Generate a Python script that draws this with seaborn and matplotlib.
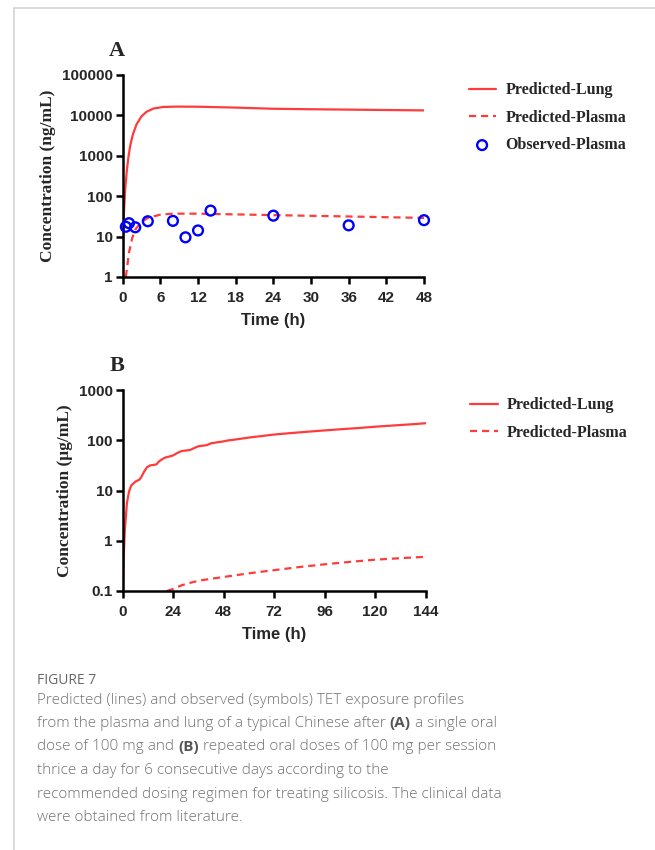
"""Recreate Figure 7: predicted vs observed TET exposure (plasma and lung)."""

import matplotlib

matplotlib.use("Agg")

import matplotlib.pyplot as plt
import numpy as np
import pandas as pd
import seaborn as sns
from matplotlib.lines import Line2D

# ---- panel A: single 100 mg oral dose (ng/mL) ----
time_lung_a = [0, 0.2, 0.4, 0.65, 0.9, 1.2, 1.6, 2.2, 3, 3.8, 4.9, 6.5, 8.5,
               12, 18, 24, 30, 36, 42, 48]
conc_lung_a = [2.4, 40, 150, 420, 900, 1800, 3300, 6000, 9500, 12300, 14800,
               16200, 16500, 16400, 15600, 14600, 14200, 13900, 13600, 13300]

time_plasma_a = [0.5, 0.75, 1, 1.5, 2, 3, 4, 6, 8, 12, 24, 36, 48]
conc_plasma_a = [1, 2, 4, 9, 15, 23, 29, 35, 37, 37, 34, 31.5, 29]

time_obs_a = [0.5, 1, 2, 4, 8, 10, 12, 14, 24, 36, 48]
conc_obs_a = [17.5, 21.5, 17, 24, 24.5, 9.6, 14.2, 44, 33, 19, 25.5]

# ---- panel B: 100 mg thrice daily for 6 days (ug/mL) ----
time_lung_b = [0, 0.5, 1, 2, 3, 4, 6, 8, 9, 10, 11.5, 13, 16, 17, 18, 20, 23,
               24, 26, 28, 32, 34, 36, 40, 42, 45, 48, 50, 54, 58, 62, 66, 72,
               80, 88, 96, 104, 112, 120, 128, 136, 144]
conc_lung_b = [0.1, 0.5, 1.6, 5.6, 9.5, 12.5, 15, 16.5, 19, 23, 29, 31.5, 33,
               37, 40, 45, 48.5, 50, 56, 61, 64, 70, 76, 80, 87, 91, 95, 99,
               104, 110, 116, 121, 130, 139, 148, 157, 166, 175, 186, 196,
               206, 218]

time_plasma_b = [21, 24, 28, 32, 36, 42, 48, 60, 72, 84, 96, 108, 120, 132, 144]
conc_plasma_b = [0.1, 0.11, 0.13, 0.145, 0.16, 0.175, 0.19, 0.225, 0.26, 0.3,
                 0.34, 0.38, 0.42, 0.45, 0.48]

RED = "#ff3b3b"
BLUE = "#0000ff"
SERIF = "Liberation Serif"
SANS = "Liberation Sans"

sns.set_style("ticks")
plt.rcParams["font.family"] = [SANS, "DejaVu Sans"]

W, H = 655, 850
fig = plt.figure(figsize=(W / 100, H / 100), dpi=100)


def px_axes(left, top, right, bottom):
    return fig.add_axes([left / W, 1 - bottom / H, (right - left) / W,
                         (bottom - top) / H])


def style_axes(ax, xticks, xlim, ylim, yticks, yticklabels, ylabel, letter):
    ax.set_yscale("log")
    ax.set_xlim(*xlim)
    ax.set_ylim(*ylim)
    ax.set_xticks(xticks)
    ax.set_yticks(yticks)
    ax.set_yticklabels(yticklabels)
    ax.minorticks_off()
    sns.despine(ax=ax)
    for side in ("left", "bottom"):
        ax.spines[side].set_linewidth(1.8)
        ax.spines[side].set_color("black")
    ax.tick_params(width=1.8, length=5, labelsize=11, color="black")
    ax.tick_params(axis="x", pad=5)
    ax.tick_params(axis="y", pad=2)
    for lab in ax.get_xticklabels() + ax.get_yticklabels():
        lab.set_fontweight("bold")
        lab.set_family(SANS)
    ax.set_xlabel("Time (h)", fontsize=12, fontweight="bold", family=SANS,
                  labelpad=6)
    ax.set_ylabel(ylabel, fontsize=12.5, fontweight="bold", family=SERIF,
                  labelpad=4)
    ax.text(-0.02, 1.12, letter, transform=ax.transAxes, fontsize=16,
            fontweight="bold", family=SERIF, ha="center", va="center")


def add_legend(ax):
    ax.legend(loc="upper left", bbox_to_anchor=(1.1, 1.035), frameon=False,
              prop={"family": SERIF, "weight": "bold", "size": 11.5},
              handlelength=1.7, labelspacing=0.72, handletextpad=0.6)


# ---- panel A ----
ax_a = px_axes(122.7, 75, 424, 277)
sns.lineplot(x=time_lung_a, y=conc_lung_a, ax=ax_a, color=RED, lw=1.6,
             label="Predicted-Lung")
sns.lineplot(x=time_plasma_a, y=conc_plasma_a, ax=ax_a, color=RED, lw=1.6,
             linestyle=(0, (3.2, 2.2)), label="Predicted-Plasma")
sns.scatterplot(x=time_obs_a, y=conc_obs_a, ax=ax_a, marker="o",
                facecolor="none", edgecolor=BLUE, linewidth=1.7, s=50,
                label="Observed-Plasma", zorder=5, clip_on=False)
style_axes(ax_a, np.arange(0, 49, 6), (0, 48), (1, 100000),
           [1, 10, 100, 1000, 10000, 100000],
           ["1", "10", "100", "1000", "10000", "100000"],
           "Concentration (ng/mL)", "A")
add_legend(ax_a)

# ---- panel B ----
ax_b = px_axes(122.7, 390, 425.7, 591)
sns.lineplot(x=time_lung_b, y=conc_lung_b, ax=ax_b, color=RED, lw=1.6,
             label="Predicted-Lung")
sns.lineplot(x=time_plasma_b, y=conc_plasma_b, ax=ax_b, color=RED, lw=1.6,
             linestyle=(0, (3.2, 2.2)), label="Predicted-Plasma")
style_axes(ax_b, np.arange(0, 145, 24), (0, 144), (0.1, 1000),
           [0.1, 1, 10, 100, 1000], ["0.1", "1", "10", "100", "1000"],
           "Concentration (\u03bcg/mL)", "B")
add_legend(ax_b)

# ---- page frame ----
fig.add_artist(Line2D([14 / W, 1], [1 - 8 / H, 1 - 8 / H], color="#d4d4d4",
                      lw=1.2, transform=fig.transFigure))
fig.add_artist(Line2D([14 / W, 14 / W], [0, 1 - 8 / H], color="#d4d4d4",
                      lw=1.2, transform=fig.transFigure))

# ---- caption ----
CAP_FONT = ["Open Sans", "DejaVu Sans"]
CAP_GREY = "#727272"
fig.text(37 / W, 1 - 681 / H, "FIGURE 7", fontsize=10, color="#666666",
         family=CAP_FONT, va="center", fontweight="medium")

caption_lines = [
    [("Predicted (lines) and observed (symbols) TET exposure profiles", "light")],
    [("from the plasma and lung of a typical Chinese after ", "light"),
     ("(A)", "bold"), (" a single oral", "light")],
    [("dose of 100 mg and ", "light"), ("(B)", "bold"),
     (" repeated oral doses of 100 mg per session", "light")],
    [("thrice a day for 6 consecutive days according to the", "light")],
    [("recommended dosing regimen for treating silicosis. The clinical data",
      "light")],
    [("were obtained from literature.", "light")],
]
renderer = fig.canvas.get_renderer()
y_px = 700
for parts in caption_lines:
    x_px = 37
    for txt, weight in parts:
        t = fig.text(x_px / W, 1 - y_px / H, txt, fontsize=11,
                     family=CAP_FONT, fontweight=weight, va="center",
                     color="#555555" if weight == "bold" else CAP_GREY)
        x_px += t.get_window_extent(renderer).width
    y_px += 23.5

fig.savefig("out.png", dpi=100)
